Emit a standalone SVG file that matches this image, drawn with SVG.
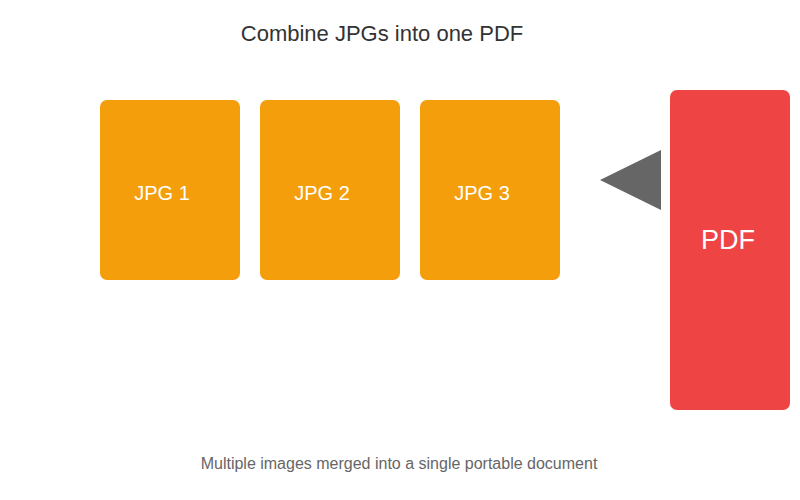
<svg xmlns="http://www.w3.org/2000/svg" width="800" height="500" viewBox="0 0 800 500">
<style>
.jpg{fill:#F59E0B}
.pdf{fill:#EF4444}
.lbl{font-family:"Liberation Sans",Arial,sans-serif;fill:#ffffff;text-anchor:middle}
.title{font-family:"Liberation Sans",Arial,sans-serif;fill:#333333;font-size:22px;text-anchor:middle}
.sub{font-family:"Liberation Sans",Arial,sans-serif;fill:#666666;font-size:16px;text-anchor:middle}
</style>
<rect width="800" height="500" fill="#ffffff"/>
<text class="title" x="382" y="41">Combine JPGs into one PDF</text>
<g id="jpg1"><rect class="jpg" x="100" y="100" width="140" height="180" rx="7"/><text class="lbl" x="162" y="200" font-size="20">JPG 1</text></g>
<g id="jpg2"><rect class="jpg" x="260" y="100" width="140" height="180" rx="7"/><text class="lbl" x="322" y="200" font-size="20">JPG 2</text></g>
<g id="jpg3"><rect class="jpg" x="420" y="100" width="140" height="180" rx="7"/><text class="lbl" x="482" y="200" font-size="20">JPG 3</text></g>
<g id="pdf"><rect class="pdf" x="670" y="90" width="120" height="320" rx="7"/><text class="lbl" x="728" y="249" font-size="27">PDF</text></g>
<g id="connectors"><polygon points="600,180 661,150 661,210" fill="#666666"/></g>
<text class="sub" x="399" y="469">Multiple images merged into a single portable document</text>
</svg>
